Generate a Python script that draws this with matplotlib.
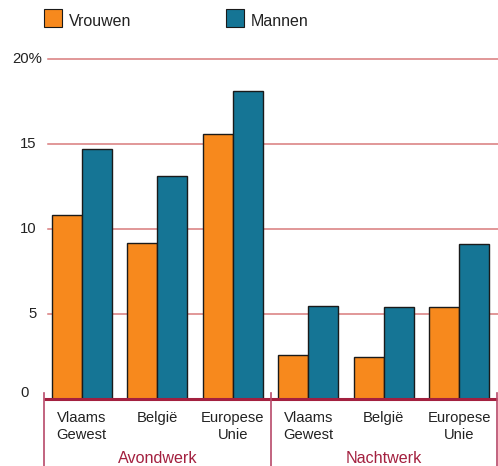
import numpy as np
import matplotlib
matplotlib.use("Agg")
import matplotlib.pyplot as plt

groups = ["Avondwerk", "Nachtwerk"]
regions = ["Vlaams\nGewest", "België", "Europese\nUnie"]
vrouwen = [10.8, 9.2, 15.6, 2.6, 2.5, 5.4]
mannen = [14.7, 13.1, 18.1, 5.5, 5.4, 9.1]
yticks = [0, 5, 10, 15, 20]
ytick_labels = ["0", "5", "10", "15", "20%"]

ORANGE = "#f7891d"
TEAL = "#157595"
CRIMSON = "#a3203f"
GRID = "#d97a7c"

plt.rcParams["font.family"] = ["Liberation Sans", "DejaVu Sans"]

fig = plt.figure(figsize=(4.98, 4.66), dpi=100)
ax = fig.add_axes([44 / 498, 67 / 466, 453 / 498, 340 / 466])

x = np.arange(len(vrouwen))
w = 0.4
ax.bar(x - w / 2, vrouwen, w, color=ORANGE, edgecolor="#1a1a1a", linewidth=1, zorder=3)
ax.bar(x + w / 2, mannen, w, color=TEAL, edgecolor="#1a1a1a", linewidth=1, zorder=3)

ax.set_xlim(-0.5, 5.5)
ax.set_ylim(0, 20)
for s in ax.spines.values():
    s.set_visible(False)
ax.set_xticks([])
ax.set_yticks([])

# gridlines
for v in yticks[1:]:
    ax.plot([-0.45, 5.55], [v, v], color=GRID, lw=1.1, zorder=1, clip_on=False)

# y labels
for v, lab in zip(yticks, ytick_labels):
    dy = 0.35 if v == 0 else 0
    xo = -0.6 if v != 20 else -0.53
    if v == 0:
        xo = -0.7
    ax.text(xo, v + dy, lab, ha="right", va="center", fontsize=10.7, color="#222222")

# bottom axis
ax.plot([-0.5, 5.5], [0, 0], color=CRIMSON, lw=2.2, zorder=4, clip_on=False,
        solid_capstyle="butt")

# separators
for xs in [-0.5, 2.5, 5.5]:
    ax.plot([xs, xs], [0.35, -3.95], color="#b8496a", lw=1.2, clip_on=False, zorder=4)

# category labels
for i in range(len(vrouwen)):
    ax.text(x[i], -0.7, regions[i % 3], ha="center", va="top", fontsize=10.6,
            color="#222222", linespacing=1.3)

for gi, g in enumerate(groups):
    ax.text(1 + 3 * gi, -3.5, g, ha="center", va="center", fontsize=11.6, color=CRIMSON)

# legend
fig.patches.append(plt.Rectangle((44 / 498, 1 - 27 / 466), 18 / 498, 18 / 466,
                                 transform=fig.transFigure, facecolor=ORANGE,
                                 edgecolor="#1a1a1a", lw=0.8))
fig.text(69 / 498, 1 - 21 / 466, "Vrouwen", ha="left", va="center", fontsize=11.5, color="#222222")
fig.patches.append(plt.Rectangle((226 / 498, 1 - 27 / 466), 18 / 498, 18 / 466,
                                 transform=fig.transFigure, facecolor=TEAL,
                                 edgecolor="#1a1a1a", lw=0.8))
fig.text(251 / 498, 1 - 21 / 466, "Mannen", ha="left", va="center", fontsize=11.5, color="#222222")

fig.savefig("out.png", dpi=100)
